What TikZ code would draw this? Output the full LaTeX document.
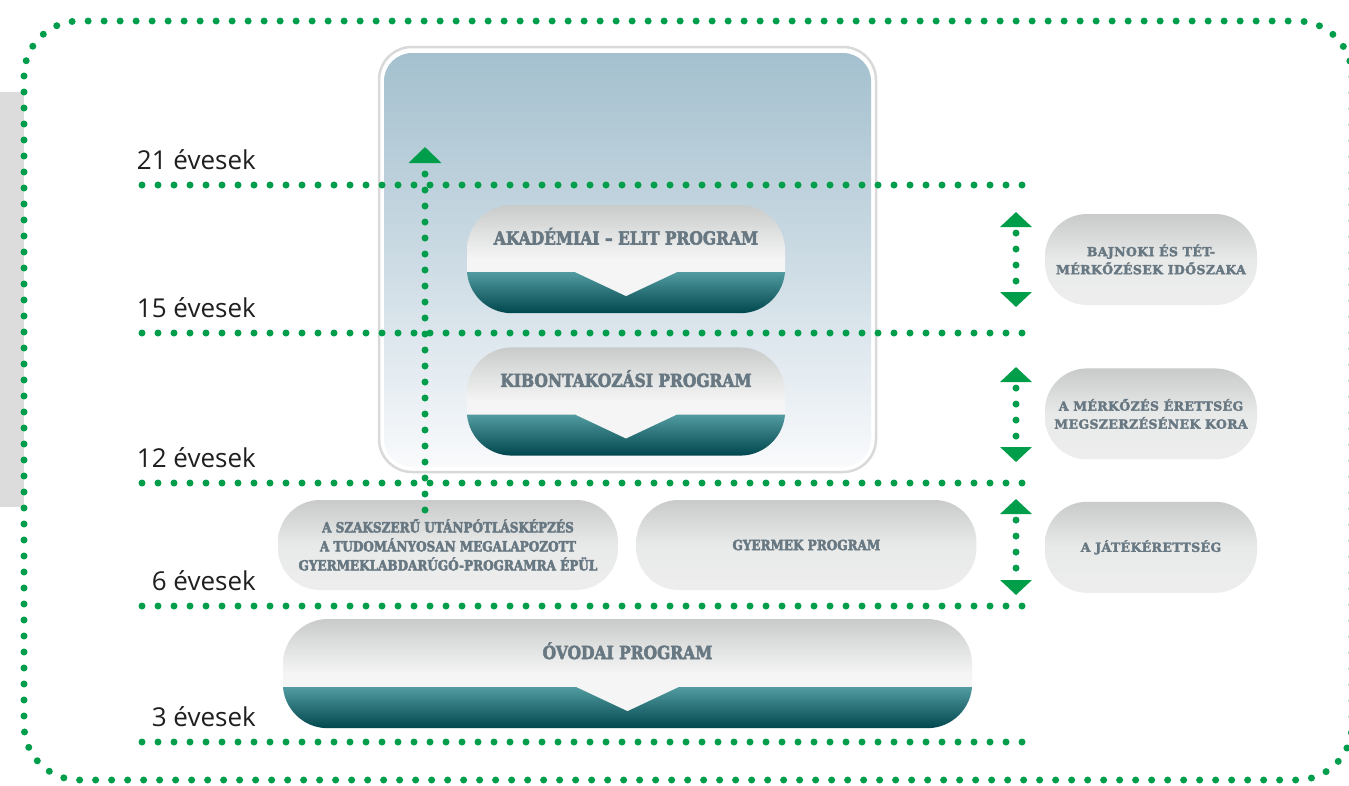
\documentclass[tikz,border=0pt]{standalone}
\usepackage{fontspec}
\usepackage{tikz}
\usetikzlibrary{arrows.meta,positioning,calc}
\newfontfamily\agefont{Open Sans}
\newfontfamily\slab[FakeStretch=0.86,FakeBold=3]{DejaVu Serif Bold}
\newfontfamily\slabwide[LetterSpace=3,FakeBold=2.5]{DejaVu Serif Bold}
\definecolor{dotgreen}{RGB}{0,158,74}
\definecolor{stripgray}{RGB}{220,220,220}
\definecolor{panelline}{RGB}{217,217,217}
\definecolor{panelblue}{RGB}{164,192,206}
\definecolor{panelmid}{RGB}{204,219,228}
\definecolor{panelwhite}{RGB}{249,250,252}
\definecolor{pilltop}{RGB}{201,203,203}
\definecolor{pillmid}{RGB}{232,233,233}
\definecolor{pilllight}{RGB}{245,245,245}
\definecolor{tealtop}{RGB}{82,155,160}
\definecolor{tealbot}{RGB}{0,70,78}
\definecolor{labelgray}{RGB}{104,120,130}

\tikzset{
  greendots/.style={draw=dotgreen,line width=7pt,line cap=round,dash pattern=on 0pt off 16pt},
  agelabel/.style={font=\agefont\fontsize{26}{30}\selectfont,text=black!88,inner sep=0pt,anchor=base east},
  prog/.style={rounded corners=45pt,minimum height=108pt,top color=pilltop,bottom color=pilllight,middle color=pilllight,
    text=labelgray,font=\slab\fontsize{18}{22}\selectfont,text height=9pt,text depth=38pt},
  gpill/.style={rounded corners=42pt,minimum width=340pt,minimum height=90pt,
    top color=pilltop,bottom color=pilllight!97!black,middle color=pillmid,
    text=labelgray,align=center,font=\slab\fontsize{14}{19}\selectfont},
  rpill/.style={rounded corners=42pt,minimum width=212pt,minimum height=91pt,
    top color=pilltop,bottom color=pilllight!97!black,middle color=pillmid,
    text=labelgray,align=center,font=\slabwide\fontsize{12.5}{18}\selectfont}
}

\begin{document}
\begin{tikzpicture}[x=1pt,y=-1pt]
 \useasboundingbox (0,0) rectangle (1349,785);
 \fill[white] (0,0) rectangle (1349,785);
 \fill[stripgray] (0,92) rectangle (24,507);

 % panel behind the upper programmes
 \node (frame) [draw=panelline,line width=2.5pt,fill=white,rounded corners=33pt,
                minimum width=497pt,minimum height=425pt] at (627.5,259.5) {};
 \node (panel) [rounded corners=28pt,minimum width=487pt,minimum height=414pt,
                top color=panelblue,bottom color=panelwhite,middle color=panelmid] at (627.5,260) {};

 \draw[greendots,rounded corners=55pt] (24,21) rectangle (1352,780);

 % age levels
 \foreach \yy/\age in {185/21,333/15,483/12,606/6,742/3}{
   \coordinate (l\age) at (142,\yy);
   \coordinate (r\age) at (1028,\yy);
   \draw[greendots] (l\age) -- (r\age);
   \node[agelabel] (a\age) at (256,\yy-16) {\age{} évesek};
 }

 \node[prog,minimum width=318pt] (akad) at (626,259) {AKADÉMIAI – ELIT PROGRAM};
 \node[prog,minimum width=318pt] (kib) [below=34pt of akad] {KIBONTAKOZÁSI PROGRAM};
 \node[prog,minimum width=689pt,minimum height=109pt] (ovodai) at (627.5,673.5) {ÓVODAI PROGRAM};

 % teal lower half with the notch
 \foreach \p in {akad,kib,ovodai}{
   \begin{scope}
     \clip[rounded corners=45pt] (\p.north west) rectangle (\p.south east);
     \shade[top color=tealtop,bottom color=tealbot]
       ($(\p.south west)+(0pt,41pt)$) -- ($(\p.south)+(-51pt,41pt)$) -- ($(\p.south)+(0pt,17pt)$)
       -- ($(\p.south)+(51pt,41pt)$) -- ($(\p.south east)+(0pt,41pt)$) -- (\p.south east) -- (\p.south west) -- cycle;
   \end{scope}
 }

 \node[gpill] (szak) at (448,545) {A SZAKSZERŰ UTÁNPÓTLÁSKÉPZÉS\\A TUDOMÁNYOSAN MEGALAPOZOTT\\GYERMEKLABDARÚGÓ-PROGRAMRA ÉPÜL};
 \node[gpill] (gyermek) [right=18pt of szak] {GYERMEK PROGRAM};

 \node[rpill] (bajnoki) at (1151,259.5) {BAJNOKI ÉS TÉT-\\MÉRKŐZÉSEK IDŐSZAKA};
 \node[rpill] (merk) [below=63pt of bajnoki] {A MÉRKŐZÉS ÉRETTSÉG\\MEGSZERZÉSÉNEK KORA};
 \node[rpill] (jatek) [below=42pt of merk] {A JÁTÉKÉRETTSÉG};

 % arrows
 \coordinate (vb) at (425,510);
 \coordinate (vt) at (425,147);
 \draw[greendots,-{Triangle[length=16pt,width=32pt]}] (vb) -- (vt);

 \coordinate (t1) at (1016,212);
 \coordinate (b1) at (1016,307);
 \coordinate (t2) at (1016,367);
 \coordinate (b2) at (1016,462);
 \coordinate (t3) at (1016,499);
 \coordinate (b3) at (1016,595);
 \draw[greendots,dash phase=9pt,{Triangle[length=15pt,width=31pt]}-{Triangle[length=15pt,width=31pt]}] (t1) -- (b1);
 \draw[greendots,dash phase=9pt,{Triangle[length=15pt,width=31pt]}-{Triangle[length=15pt,width=31pt]}] (t2) -- (b2);
 \draw[greendots,dash phase=9pt,{Triangle[length=15pt,width=31pt]}-{Triangle[length=15pt,width=31pt]}] (t3) -- (b3);

\end{tikzpicture}
\end{document}
